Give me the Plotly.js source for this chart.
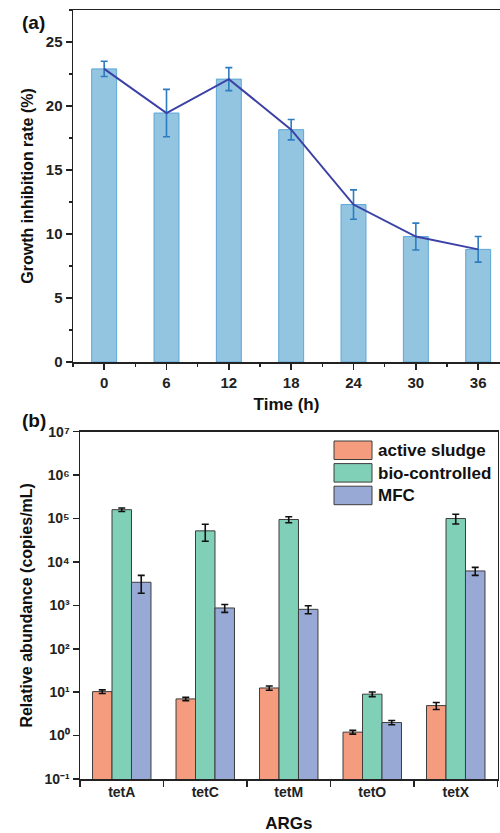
<!DOCTYPE html>
<html>
<head>
<meta charset="utf-8">
<script src="https://cdn.plot.ly/plotly-3.0.1.min.js"></script>
<style>html,body{margin:0;padding:0;background:#fff;}#chart{width:500px;height:833px;}</style>
</head>
<body>
<div id="chart"></div>
<script>
// ---- Panel (a) data ----
var times = [0, 6, 12, 18, 24, 30, 36];
var inhibition = [22.9, 19.45, 22.1, 18.15, 12.3, 9.8, 8.8];
var inhibitionErr = [0.6, 1.85, 0.9, 0.8, 1.15, 1.05, 1.0];

// ---- Panel (b) data ----
var genes = ['tetA', 'tetC', 'tetM', 'tetO', 'tetX'];
var seriesNames = ['active sludge', 'bio-controlled', 'MFC'];
var activeSludge = [10.3, 7.0, 12.5, 1.2, 4.9];
var activeSludgeErr = [1.0, 0.6, 1.4, 0.12, 0.9];
var bioControlled = [160000, 52000, 95000, 9.0, 100000];
var bioControlledErr = [15000, 22000, 15000, 1.1, 25000];
var mfc = [3400, 870, 810, 2.0, 6200];
var mfcErr = [1500, 180, 170, 0.22, 1300];
var logTickVals = [0.1, 1, 10, 100, 1000, 10000, 100000, 1000000, 10000000];
var logTickText = ['10\u207B\u00B9', '10\u2070', '10\u00B9', '10\u00B2', '10\u00B3', '10\u2074', '10\u2075', '10\u2076', '10\u2077'];

var colors = ['#f59c7f', '#80cfb7', '#98a9d5'];
var FONT = 'Liberation Sans, Arial, sans-serif';
var W = 500, H = 833;
function px(x) { return x / W; }
function py(y) { return 1 - y / H; }

var traces = [
  {
    type: 'bar', x: times, y: inhibition, width: 2.4, xaxis: 'x', yaxis: 'y',
    marker: {color: '#93c5e1', line: {color: '#5ea6d6', width: 1}},
    error_y: {type: 'data', array: inhibitionErr, visible: true, color: '#2e7cc0', thickness: 1.6, width: 3.5},
    showlegend: false
  },
  {
    type: 'scatter', mode: 'lines', x: times, y: inhibition, xaxis: 'x', yaxis: 'y',
    line: {color: '#3c41a6', width: 2},
    showlegend: false
  }
];
var bSeries = [[activeSludge, activeSludgeErr], [bioControlled, bioControlledErr], [mfc, mfcErr]];
bSeries.forEach(function (s, i) {
  traces.push({
    type: 'bar', x: genes, y: s[0], name: seriesNames[i], xaxis: 'x2', yaxis: 'y2',
    marker: {color: colors[i], line: {color: '#3d3d3d', width: 1}},
    error_y: {type: 'data', array: s[1], visible: true, color: '#111', thickness: 1.6, width: 3.5},
    showlegend: false
  });
});

var axisCommon = {
  showline: true, linecolor: '#222', linewidth: 1.5, ticks: 'outside', ticklen: 6, tickwidth: 1.5,
  tickcolor: '#222', showgrid: false, zeroline: false,
  tickfont: {family: FONT, size: 15, color: '#222', weight: 'bold'}
};
function merge(a, b) { var o = {}; for (var k in a) o[k] = a[k]; for (var k2 in b) o[k2] = b[k2]; return o; }

var shapes = [], annotations = [];
annotations.push({xref: 'paper', yref: 'paper', x: px(33), y: py(23), text: '(a)', showarrow: false,
  font: {family: FONT, size: 19, color: '#111', weight: 'bold'}, xanchor: 'center', yanchor: 'middle'});
annotations.push({xref: 'paper', yref: 'paper', x: px(34), y: py(420), text: '(b)', showarrow: false,
  font: {family: FONT, size: 19, color: '#111', weight: 'bold'}, xanchor: 'center', yanchor: 'middle'});
// legend (manual)
seriesNames.forEach(function (n, i) {
  var top = 441 + i * 22.6;
  shapes.push({type: 'rect', xref: 'paper', yref: 'paper', x0: px(334), x1: px(372), y0: py(top), y1: py(top + 18.5),
    fillcolor: colors[i], line: {color: '#3d3d3d', width: 1}});
  annotations.push({xref: 'paper', yref: 'paper', x: px(376), y: py(top + 9.5), text: n, showarrow: false,
    xanchor: 'left', yanchor: 'middle', font: {family: FONT, size: 17, color: '#111', weight: 'bold'}});
});

var layout = {
  width: W, height: H, margin: {l: 0, r: 0, t: 0, b: 0},
  paper_bgcolor: '#fff', plot_bgcolor: '#fff',
  font: {family: FONT, color: '#111', weight: 'bold'},
  bargap: 0.3, bargroupgap: 0, barmode: 'group', showlegend: false,
  xaxis: merge(axisCommon, {
    domain: [px(73), 1], range: [-3, 38.1], dtick: 6, tick0: 0, mirror: true, anchor: 'y',
    minor: {dtick: 3, tick0: 0, ticks: 'outside', ticklen: 3, tickwidth: 1.2, tickcolor: '#222'},
    title: {text: 'Time (h)', font: {family: FONT, size: 17, color: '#111', weight: 'bold'}, standoff: 8}
  }),
  yaxis: merge(axisCommon, {
    domain: [py(362), py(10)], range: [0, 27.5], dtick: 5, anchor: 'x',
    minor: {dtick: 2.5, tick0: 0, ticks: 'outside', ticklen: 3, tickwidth: 1.2, tickcolor: '#222'},
    title: {text: 'Growth inhibition rate (%)', font: {family: FONT, size: 16, color: '#111', weight: 'bold'}, standoff: 8}
  }),
  xaxis2: merge(axisCommon, {
    domain: [px(80), px(497.5)], type: 'category', range: [-0.5, 4.5], tickson: 'boundaries', mirror: true, anchor: 'y2',
    tickfont: {family: FONT, size: 14, color: '#222', weight: 'bold'},
    title: {text: 'ARGs', font: {family: FONT, size: 17, color: '#111', weight: 'bold'}, standoff: 20}
  }),
  yaxis2: merge(axisCommon, {
    domain: [py(779), py(431.7)], type: 'log', range: [-1, 7], tickvals: logTickVals, ticktext: logTickText,
    mirror: true, anchor: 'x2',
    tickfont: {family: FONT, size: 14, color: '#222', weight: 'bold'},
    title: {text: 'Relative abundance (copies/mL)', font: {family: FONT, size: 16, color: '#111', weight: 'bold'}, standoff: 8}
  }),
  shapes: shapes, annotations: annotations
};

Plotly.newPlot('chart', traces, layout, {displayModeBar: false, staticPlot: true});
</script>
</body>
</html>
